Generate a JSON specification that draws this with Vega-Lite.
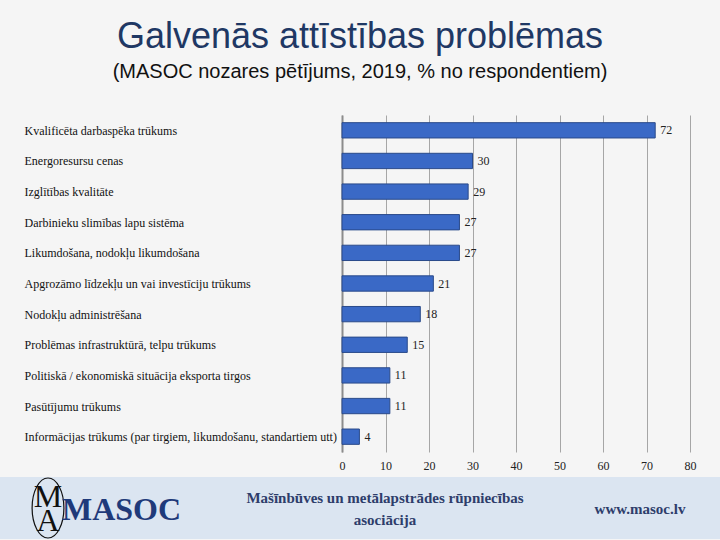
{
  "$schema": "https://vega.github.io/schema/vega-lite/v6.json",
  "background": "#f5f5f5",
  "padding": {"top": 19, "left": 0, "right": 0, "bottom": 0},
  "spacing": 4,
  "title": {
    "text": "Galvenās attīstības problēmas",
    "subtitle": "(MASOC nozares pētījums, 2019, % no respondentiem)",
    "anchor": "middle",
    "frame": "bounds",
    "font": "Liberation Sans",
    "fontSize": 36,
    "fontWeight": "normal",
    "color": "#1f3864",
    "subtitleFont": "Liberation Sans",
    "subtitleFontSize": 20,
    "subtitleColor": "#111111",
    "subtitlePadding": 6,
    "offset": 32
  },
  "config": {
    "view": {"stroke": null}
  },
  "datasets": {
    "problems": [
      {"problem": "Kvalificēta darbaspēka trūkums", "value": 72},
      {"problem": "Energoresursu cenas", "value": 30},
      {"problem": "Izglītības kvalitāte", "value": 29},
      {"problem": "Darbinieku slimības lapu sistēma", "value": 27},
      {"problem": "Likumdošana, nodokļu likumdošana", "value": 27},
      {"problem": "Apgrozāmo līdzekļu un vai investīciju trūkums", "value": 21},
      {"problem": "Nodokļu administrēšana", "value": 18},
      {"problem": "Problēmas infrastruktūrā, telpu trūkums", "value": 15},
      {"problem": "Politiskā / ekonomiskā situācija eksporta tirgos", "value": 11},
      {"problem": "Pasūtījumu trūkums", "value": 11},
      {"problem": "Informācijas trūkums (par tirgiem, likumdošanu, standartiem utt)", "value": 4}
    ]
  },
  "vconcat": [
    {
      "spacing": 0,
      "hconcat": [
        {
          "width": 24,
          "height": 337,
          "data": {"name": "problems"},
          "mark": {"type": "point", "opacity": 0},
          "encoding": {
            "y": {
              "field": "problem",
              "type": "nominal",
              "sort": null,
              "scale": {"paddingInner": 0.5},
              "axis": {
                "orient": "right",
                "title": null,
                "ticks": false,
                "domain": false,
                "labelAlign": "left",
                "labelPadding": 0,
                "labelLimit": 330,
                "minExtent": 315,
                "maxExtent": 315,
                "labelFont": "Liberation Serif",
                "labelFontSize": 12,
                "labelColor": "#111111"
              }
            }
          }
        },
        {
          "width": 348,
          "height": 337,
          "data": {"name": "problems"},
          "encoding": {
            "y": {
              "field": "problem",
              "type": "nominal",
              "sort": null,
              "scale": {"paddingInner": 0.5},
              "axis": {
                "title": null,
                "ticks": false,
                "labels": false,
                "minExtent": 0,
                "maxExtent": 0,
                "domainColor": "#8c8c8c",
                "domainWidth": 2
              }
            },
            "x": {
              "field": "value",
              "type": "quantitative",
              "scale": {"domain": [0, 80], "nice": false},
              "axis": {
                "title": null,
                "values": [0, 10, 20, 30, 40, 50, 60, 70, 80],
                "ticks": false,
                "domain": false,
                "grid": true,
                "gridColor": "#a6a6a6",
                "gridWidth": 1,
                "labelPadding": 8,
                "labelFlush": false,
                "labelFont": "Liberation Serif",
                "labelFontSize": 12,
                "labelColor": "#222222"
              }
            }
          },
          "layer": [
            {"mark": {"type": "bar", "color": "#3a69c6", "stroke": "#2a4a8a", "strokeWidth": 1}},
            {
              "mark": {"type": "text", "align": "left", "dx": 5, "font": "Liberation Serif", "fontSize": 12, "color": "#222222"},
              "encoding": {"text": {"field": "value", "type": "quantitative"}}
            }
          ]
        }
      ]
    },
    {
      "width": 720,
      "height": 62,
      "view": {"fill": "#dbe5f1", "stroke": null},
      "encoding": {
        "x": {
          "field": "part",
          "type": "nominal",
          "scale": {"domain": ["logo", "name", "url"], "paddingInner": 0, "paddingOuter": 0},
          "axis": null
        }
      },
      "layer": [
        {
          "data": {"values": [{"part": "logo"}]},
          "mark": {"type": "point", "shape": "M0,-1A0.53,1,0,1,1,0,1A0.53,1,0,1,1,0,-1Z", "size": 3600, "filled": false, "stroke": "#111111", "strokeWidth": 1.2, "opacity": 1},
          "encoding": {"xOffset": {"value": -72}}
        },
        {
          "data": {"values": [{"part": "logo", "t": "M"}]},
          "mark": {"type": "text", "dx": -72, "dy": -11, "font": "Liberation Serif", "fontSize": 32, "color": "#111111"},
          "encoding": {"text": {"field": "t"}}
        },
        {
          "data": {"values": [{"part": "logo", "t": "A"}]},
          "mark": {"type": "text", "dx": -72, "dy": 13, "font": "Liberation Serif", "fontSize": 32, "color": "#111111"},
          "encoding": {"text": {"field": "t"}}
        },
        {
          "data": {"values": [{"part": "logo", "t": "MASOC"}]},
          "mark": {"type": "text", "align": "left", "dx": -58, "dy": 2, "font": "Liberation Serif", "fontWeight": "bold", "fontSize": 32, "color": "#1f3a7a"},
          "encoding": {"text": {"field": "t"}}
        },
        {
          "data": {"values": [{"part": "name", "t": "Mašīnbūves un metālapstrādes rūpniecības|asociācija"}]},
          "mark": {"type": "text", "lineBreak": "|", "lineHeight": 22, "dx": 25, "dy": -10, "baseline": "middle", "font": "Liberation Serif", "fontWeight": "bold", "fontSize": 15, "color": "#2e3d6b"},
          "encoding": {"text": {"field": "t"}}
        },
        {
          "data": {"values": [{"part": "url", "t": "www.masoc.lv"}]},
          "mark": {"type": "text", "dx": 40, "dy": 1, "font": "Liberation Serif", "fontWeight": "bold", "fontSize": 15, "color": "#2e3d6b"},
          "encoding": {"text": {"field": "t"}}
        }
      ]
    }
  ]
}
